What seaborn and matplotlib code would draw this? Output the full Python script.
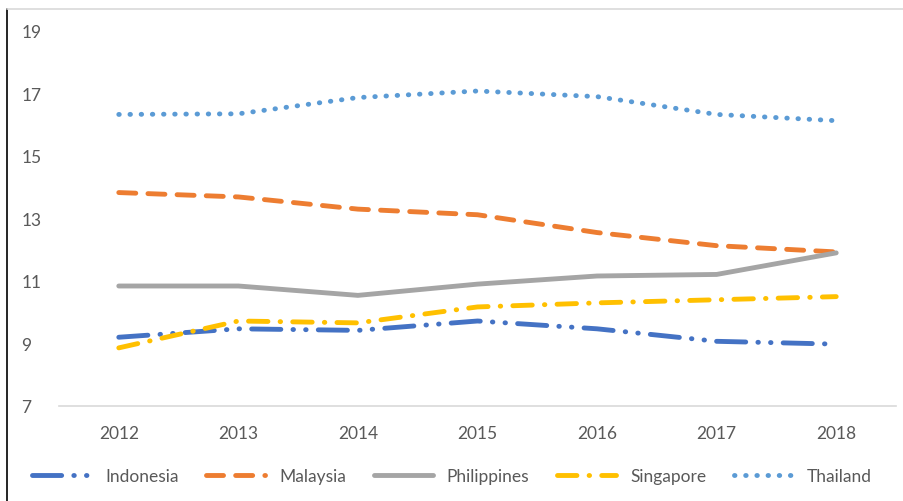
import pandas as pd
import numpy as np
import seaborn as sns
import matplotlib.pyplot as plt
from matplotlib.lines import Line2D

years = [2012, 2013, 2014, 2015, 2016, 2017, 2018]
indonesia = [9.2, 9.47, 9.42, 9.72, 9.47, 9.07, 8.98]
malaysia = [13.83, 13.69, 13.3, 13.12, 12.55, 12.13, 11.93]
philippines = [10.84, 10.84, 10.54, 10.9, 11.16, 11.21, 11.9]
singapore = [8.86, 9.72, 9.66, 10.17, 10.3, 10.4, 10.5]
thailand = [16.33, 16.35, 16.87, 17.08, 16.9, 16.33, 16.13]

countries = ["Indonesia", "Malaysia", "Philippines", "Singapore", "Thailand"]
series = [indonesia, malaysia, philippines, singapore, thailand]

df = pd.DataFrame({
    "year": years * len(countries),
    "value": [v for s in series for v in s],
    "country": [c for c in countries for _ in years],
})

colors = {"Indonesia": "#4472C4", "Malaysia": "#ED7D31", "Philippines": "#A5A5A5",
          "Singapore": "#FFC000", "Thailand": "#5B9BD5"}
dashes = {"Indonesia": (6, 2.5, 0.1, 2.5, 0.1, 2.5),
          "Malaysia": (3.5, 2.5),
          "Philippines": "",
          "Singapore": (4, 2.5, 0.1, 2.5),
          "Thailand": (0.1, 2.2)}

sns.set_style("white")
plt.rcParams["font.family"] = ["Lato", "DejaVu Sans"]
plt.rcParams["lines.dash_capstyle"] = "round"
plt.rcParams["lines.solid_capstyle"] = "round"

fig = plt.figure(figsize=(9.04, 5.02), dpi=100)
ax = fig.add_axes([59/904, 1-407/502, (896-59)/904, (407-32)/502])

sns.lineplot(data=df, x="year", y="value", hue="country", style="country",
             palette=colors, dashes=dashes, linewidth=3.5, ax=ax, legend=False)

ax.set_xlim(2011.5, 2018.5)
ax.set_ylim(7, 19)
ax.set_xticks(years)
ax.set_yticks([7, 9, 11, 13, 15, 17, 19])
ax.tick_params(axis="both", length=0, labelsize=12.5, labelcolor="#595959")
ax.tick_params(axis="x", pad=14)
ax.tick_params(axis="y", pad=27)
for lbl in ax.get_yticklabels():
    lbl.set_horizontalalignment("left")
ax.set_xlabel("")
ax.set_ylabel("")
for side in ["top", "right", "left"]:
    ax.spines[side].set_visible(False)
ax.spines["bottom"].set_color("#D9D9D9")
ax.spines["bottom"].set_linewidth(1.2)

handles = []
for c in countries:
    if dashes[c]:
        handles.append(Line2D([0], [0], color=colors[c], lw=3.5, dashes=dashes[c]))
    else:
        handles.append(Line2D([0], [0], color=colors[c], lw=3.5))
leg = fig.legend(handles, countries, loc="center", bbox_to_anchor=(452/904, 1-477/502),
                 ncol=5, frameon=False, fontsize=12.5, handlelength=3.4,
                 columnspacing=1.6, handletextpad=0.8)
for t in leg.get_texts():
    t.set_color("#595959")

fig.add_artist(Line2D([7/904, 7/904], [0, 1-10/502], color="black", lw=1.2,
                      transform=fig.transFigure))
fig.add_artist(Line2D([7/904, 1], [1-10/502, 1-10/502], color="#D9D9D9", lw=1.2,
                      transform=fig.transFigure))

fig.savefig("out.png", dpi=100)
